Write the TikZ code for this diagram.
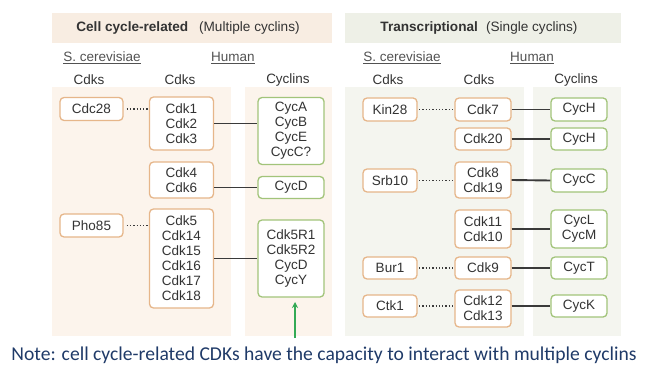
\documentclass[tikz,border=0pt]{standalone}
\usepackage{fontspec}
\setmainfont{Liberation Sans}
\newfontfamily\notefont{Carlito}
\usetikzlibrary{arrows.meta}
\definecolor{lhead}{HTML}{F8EDE2}
\definecolor{lpanel}{HTML}{FCF4EC}
\definecolor{rhead}{HTML}{EEF0E7}
\definecolor{rpanel}{HTML}{F4F5EF}
\definecolor{oline}{HTML}{E6B68A}
\definecolor{gline}{HTML}{A2C47A}
\definecolor{txt}{HTML}{333333}
\definecolor{conn}{HTML}{3A3A3A}
\definecolor{notec}{HTML}{1F3A68}
\definecolor{arrowg}{HTML}{33AA55}
\tikzset{
  box/.style={draw, line width=1.3pt, rounded corners=4pt, fill=white, align=center,
    inner sep=0pt, text=txt, font=\fontsize{13.5}{15}\selectfont},
  obox/.style={box, draw=oline},
  gbox/.style={box, draw=gline},
  lbl/.style={text=txt, font=\fontsize{13.5}{15}\selectfont, inner sep=0pt},
  hdr/.style={text=txt, font=\fontsize{13.6}{15}\selectfont, inner sep=0pt},
  solidc/.style={draw=conn, line width=1.9pt},
  dotc/.style={draw=conn, line width=1.3pt, dotted},
}
\begin{document}
\begin{tikzpicture}[x=1pt,y=-1pt]
\useasboundingbox (0,0) rectangle (650,382);
% backgrounds
\fill[lhead] (52,13) rectangle (332,43);
\fill[rhead] (345,13) rectangle (621,43);
\fill[lpanel] (52,87) rectangle (231,336);
\fill[lpanel] (245,87) rectangle (332,336);
\fill[rpanel] (345,87) rectangle (524,336);
\fill[rpanel] (533,87) rectangle (621,336);
% headers
\node[hdr] (h1) at (188,28) {\textbf{Cell cycle-related}\hspace{0.8em}(Multiple cyclins)};
\node[hdr] (h2) at (479,28) {\textbf{Transcriptional}\hspace{0.6em}(Single cyclins)};
\node[lbl, text=txt!85] (s1) at (102,58) {\underline{S. cerevisiae}};
\node[lbl, text=txt!85] (hu1) at (233,58) {\underline{Human}};
\node[lbl] (c1) at (89,80) {Cdks};
\node[lbl] (c2) at (180,80) {Cdks};
\node[lbl] (c3) at (288,80) {Cyclins};
\node[lbl, text=txt!85] (s2) at (402,58) {\underline{S. cerevisiae}};
\node[lbl, text=txt!85] (hu2) at (532,58) {\underline{Human}};
\node[lbl] (c4) at (388,80) {Cdks};
\node[lbl] (c5) at (479,80) {Cdks};
\node[lbl] (c6) at (576,80) {Cyclins};
% left nodes
\node[obox, minimum width=63pt, minimum height=23pt] (cdc28) at (91.5,109) {Cdc28};
\node[obox, minimum width=64pt, minimum height=53pt] (cdk1) at (181.5,123.5) {Cdk1\\Cdk2\\Cdk3};
\node[gbox, minimum width=66pt, minimum height=67pt] (cyca) at (291,131) {CycA\\CycB\\CycE\\CycC?};
\node[obox, minimum width=64pt, minimum height=36pt] (cdk4) at (181.5,180) {Cdk4\\Cdk6};
\node[gbox, minimum width=66pt, minimum height=22pt] (cycd) at (291,187.5) {CycD};
\node[obox, minimum width=63pt, minimum height=23pt] (pho85) at (91.5,225.5) {Pho85};
\node[obox, minimum width=64pt, minimum height=99pt] (cdk5) at (181.5,258.5) {Cdk5\\Cdk14\\Cdk15\\Cdk16\\Cdk17\\Cdk18};
\node[gbox, minimum width=66pt, minimum height=77pt] (cdk5r) at (291,258.5) {Cdk5R1\\Cdk5R2\\CycD\\CycY};
% right nodes
\node[obox, minimum width=54pt, minimum height=23pt] (kin28) at (390,109.5) {Kin28};
\node[obox, minimum width=56pt, minimum height=23pt] (cdk7) at (483,109.5) {Cdk7};
\node[gbox, minimum width=56pt, minimum height=23pt] (cych1) at (579,109.5) {CycH};
\node[obox, minimum width=56pt, minimum height=22pt] (cdk20) at (483,139) {Cdk20};
\node[gbox, minimum width=56pt, minimum height=22pt] (cych2) at (579,139) {CycH};
\node[obox, minimum width=54pt, minimum height=23pt] (srb10) at (390,180.5) {Srb10};
\node[obox, minimum width=56pt, minimum height=36pt] (cdk8) at (483,180) {Cdk8\\Cdk19};
\node[gbox, minimum width=56pt, minimum height=23pt] (cycc) at (579,180.5) {CycC};
\node[obox, minimum width=56pt, minimum height=38pt] (cdk11) at (483,229) {Cdk11\\Cdk10};
\node[gbox, minimum width=56pt, minimum height=38pt] (cycl) at (579,229) {CycL\\CycM};
\node[obox, minimum width=54pt, minimum height=22pt] (bur1) at (390,268) {Bur1};
\node[obox, minimum width=56pt, minimum height=22pt] (cdk9) at (483,268) {Cdk9};
\node[gbox, minimum width=56pt, minimum height=22pt] (cyct) at (579,268) {CycT};
\node[obox, minimum width=54pt, minimum height=22pt] (ctk1) at (390,306) {Ctk1};
\node[obox, minimum width=56pt, minimum height=37pt] (cdk12) at (483,308.5) {Cdk12\\Cdk13};
\node[gbox, minimum width=56pt, minimum height=22pt] (cyck) at (579,306) {CycK};
% connectors left
\draw[dotc] (cdc28.east) ++(3,0) -- (cdc28.east -| cdk1.west);
\draw[solidc] (cdk1.east) -- (cdk1.east -| cyca.west);
\draw[solidc] (cycd.west -| cdk4.east) -- (cycd.west);
\draw[dotc] (pho85.east) ++(3,0) -- (pho85.east -| cdk5.west);
\draw[solidc] (cdk5.east) -- (cdk5r.west);
% connectors right
\draw[dotc] (kin28) ++(29,0) -- (cdk7.west);
\draw[solidc] (cdk7.east) -- (cych1.west);
\draw[solidc] (cdk20.east) -- (cych2.west);
\draw[dotc] (srb10) ++(29,0) -- (srb10 -| cdk8.west);
\draw[solidc] (cdk8.east) -- (cycc.west);
\draw[solidc] (cdk11.east) -- (cycl.west);
\draw[dotc] (bur1) ++(29,0) -- (cdk9.west);
\draw[solidc] (cdk9.east) -- (cyct.west);
\draw[dotc] (ctk1) ++(29,0) -- (ctk1 -| cdk12.west);
\draw[solidc] (ctk1 -| cdk12.east) -- (cyck.west);
% note
\node[text=notec, font=\notefont\fontsize{19.6}{22}\selectfont, inner sep=0pt, anchor=base] (note) at (324,360) {Note: cell cycle-related CDKs have the capacity to interact with multiple cyclins};
\coordinate (arrtop) at (295,302);
\coordinate (arrbot) at (295,338);
\draw[arrowg, line width=1.4pt, -{Stealth[length=6pt,width=6pt]}] (arrbot) -- (arrtop);
\end{tikzpicture}
\end{document}
